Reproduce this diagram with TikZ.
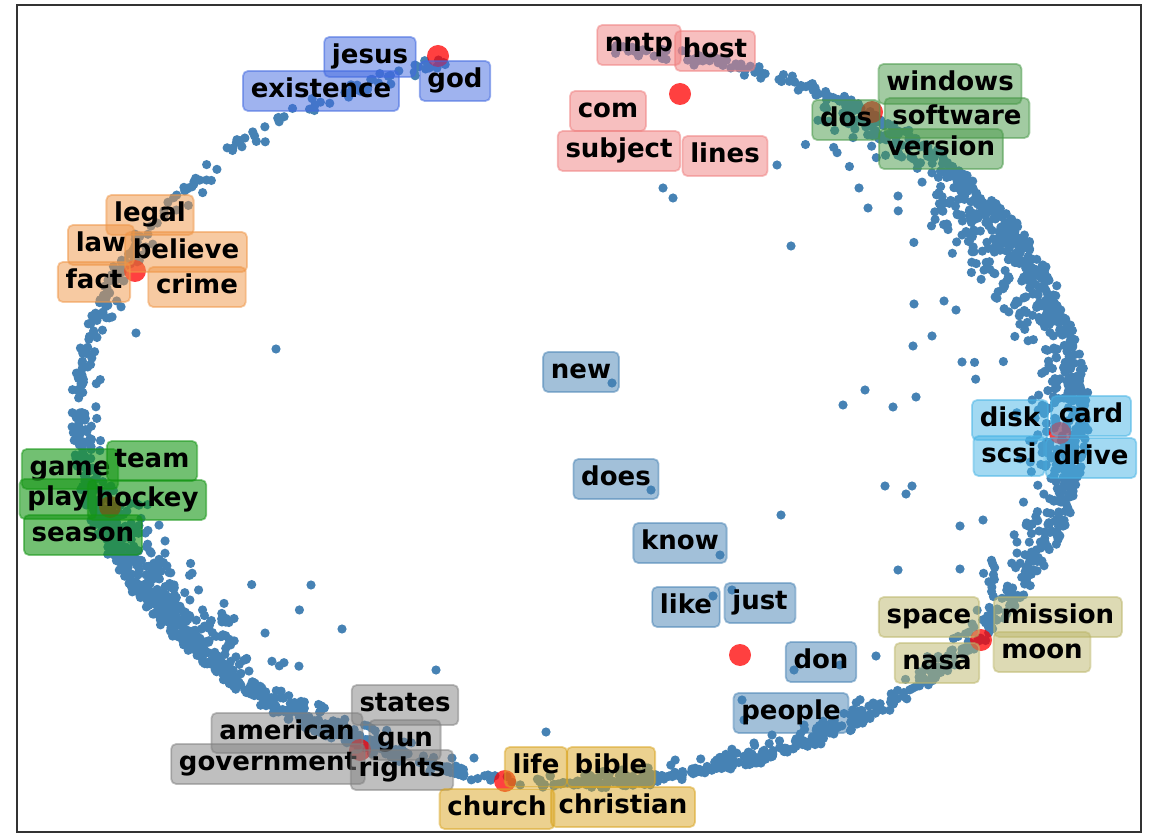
\documentclass[tikz,border=0pt]{standalone}
\usepackage{fontspec}
\setmainfont{DejaVu Sans}
\definecolor{dotblue}{RGB}{70,130,180}
\definecolor{holyc}{RGB}{65,105,225}
\definecolor{netc}{RGB}{240,128,128}
\definecolor{softc}{RGB}{71,153,71}
\definecolor{lawc}{RGB}{240,150,70}
\definecolor{sportc}{RGB}{20,150,20}
\definecolor{hwc}{RGB}{70,180,230}
\definecolor{commonc}{RGB}{70,130,180}
\definecolor{spacec}{RGB}{189,183,107}
\definecolor{polc}{RGB}{128,128,128}
\definecolor{faithc}{RGB}{218,165,32}

\begin{document}
\begin{tikzpicture}[x=0.5pt, y=-0.5pt]
\tikzstyle{word}=[font=\fontsize{13}{15}\selectfont\bfseries, rounded corners=2.5pt, inner xsep=3.9pt, inner ysep=3.9pt, text height=9.4pt, text depth=2.8pt, line width=0.9pt, fill opacity=0.5, draw opacity=0.5, text opacity=1]
\tikzstyle{dot}=[fill=dotblue]
\tikzstyle{centre}=[fill=red, fill opacity=0.75]
\tikzstyle{holy}=[word, fill=holyc, draw=holyc]
\tikzstyle{net}=[word, fill=netc, draw=netc]
\tikzstyle{soft}=[word, fill=softc, draw=softc]
\tikzstyle{law}=[word, fill=lawc, draw=lawc]
\tikzstyle{sport}=[word, fill=sportc, draw=sportc, fill opacity=0.6]
\tikzstyle{hw}=[word, fill=hwc, draw=hwc]
\tikzstyle{common}=[word, fill=commonc, draw=commonc]
\tikzstyle{space}=[word, fill=spacec, draw=spacec]
\tikzstyle{pol}=[word, fill=polc, draw=polc]
\tikzstyle{faith}=[word, fill=faithc, draw=faithc]
\useasboundingbox (0,0) rectangle (1152,834);
\fill[white] (0,0) rectangle (1152,834);
\draw[line width=0.8pt, black!80] (17,5) rectangle (1141,832);

% documents along the ring
\pgfmathsetseed{42}
\foreach \from/\to/\num/\spread in {60/86/80/0.03, 40/60/140/0.10, 15/40/280/0.14, -10/15/220/0.12, -35/-10/160/0.10, -60/-35/130/0.06, -90/-60/200/0.05, -110/-90/60/0.03, -135/-110/190/0.07, -165/-135/380/0.13, -180/-165/90/0.06, 150/180/100/0.05, 105/150/75/0.04, 0/60/55/0.3, -165/-120/45/0.25}{
  \foreach \i in {1,...,\num}{
    \pgfmathsetmacro{\ang}{\from+(\to-\from)*rnd}
    \pgfmathsetmacro{\rr}{1.01-\spread*rnd*rnd-0.02*rnd}
    \fill[dot] ({580+505*\rr*cos(\ang)},{415-370*\rr*sin(\ang)}) circle[radius=4.6];
  }
}
\foreach \p in {(663,188),(673,198),(777,165),(136,333),(276,349),(791,246),(859,188),(868,208),(898,196),(914,304),(944,301),(956,310),(913,346),(932,336),(962,362),(843,405),(865,390),(893,407),(916,397),(885,486),(912,486),(906,494),(781,515),(898,570),(960,569),(876,656),(754,743),(960,526),(983,520),(311,585),(342,629),(436,670),(546,732),(452,758),(474,758),(612,383),(651,490),(720,555),(713,596),(732,590),(794,670),(840,665),(742,700),(744,720),(804,725),(822,727),(772,735),(415,65),(428,66),(437,68),(315,105)}
  \fill[dot] \p circle[radius=4.6];

% cluster centres
\foreach \p in {(438,56),(680,94),(872,112),(135,271),(110,507),(1060,433),(981,640),(740,655),(360,750),(505,781)}
  \fill[centre] \p circle[radius=11];

% top words
\node[holy] (existence) at (321,91) {existence};
\node[holy] (jesus) at (370,57) {jesus};
\node[holy] (god) at (455,81) {god};

\node[net] (nntp) at (639,45) {nntp};
\node[net] (host) at (715,51) {host};
\node[net] (com) at (608,111) {com};
\node[net] (subject) at (619,151) {subject};
\node[net] (lines) at (725,156) {lines};

\node[soft] (windows) at (950,84) {windows};
\node[soft] (dos) at (846,120) {dos};
\node[soft] (software) at (957,118) {software};
\node[soft] (version) at (941,149) {version};

\node[law] (legal) at (150,215) {legal};
\node[law] (lawword) at (101,245) {law};
\node[law] (believe) at (186,252) {believe};
\node[law] (fact) at (94,282) {fact};
\node[law] (crime) at (197,287) {crime};

\node[sport] (game) at (70,469) {game};
\node[sport] (team) at (152,461) {team};
\node[sport] (play) at (58,499) {play};
\node[sport] (hockey) at (147,500) {hockey};
\node[sport] (season) at (83,535) {season};

\node[hw] (disk) at (1010,420) {disk};
\node[hw] (card) at (1091,416) {card};
\node[hw] (scsi) at (1009,456) {scsi};
\node[hw] (drive) at (1091,458) {drive};

\node[common] (new) at (581,372) {new};
\node[common] (does) at (616,479) {does};
\node[common] (know) at (680,543) {know};
\node[common] (like) at (686,607) {like};
\node[common] (just) at (760,603) {just};
\node[common] (don) at (821,662) {don};
\node[common] (people) at (791,713) {people};

\node[space] (spaceword) at (929,617) {space};
\node[space] (mission) at (1058,617) {mission};
\node[space] (moon) at (1042,652) {moon};
\node[space] (nasa) at (937,663) {nasa};

\node[pol] (states) at (405,705) {states};
\node[pol] (american) at (287,733) {american};
\node[pol] (government) at (268,764) {government};
\node[pol] (gun) at (405,740) {gun};
\node[pol] (rights) at (402,770) {rights};

\node[faith] (life) at (536,767) {life};
\node[faith] (bible) at (611,767) {bible};
\node[faith] (church) at (497,809) {church};
\node[faith] (christian) at (623,807) {christian};
\end{tikzpicture}
\end{document}
